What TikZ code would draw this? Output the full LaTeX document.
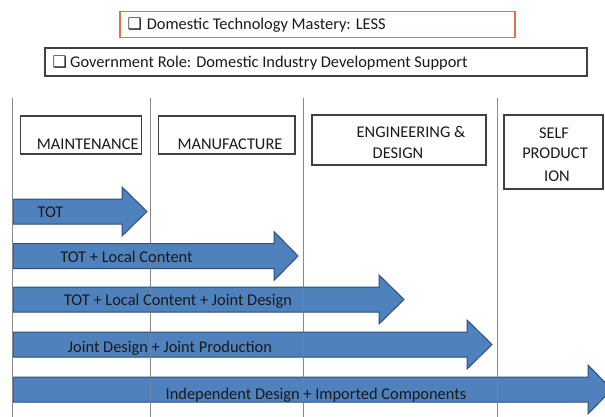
\documentclass[tikz,border=0pt]{standalone}
\usepackage{fontspec}
\setmainfont{Carlito}
\newfontfamily\symfont{DejaVu Sans}
\definecolor{arrowfill}{HTML}{4F81BD}
\definecolor{arrowline}{HTML}{2E4F7A}
\definecolor{orangeline}{HTML}{E0704F}
\definecolor{boxline}{HTML}{404040}
\definecolor{txt}{HTML}{1A1A1A}
\definecolor{gridline}{HTML}{8A8A8A}
\tikzset{
  txtstyle/.style={font=\fontsize{16.4}{21.5}\selectfont, text=txt, inner sep=0pt},
  headbox/.style={draw=boxline, line width=1.1pt, fill=white},
  bigarrow/.style={fill=arrowfill, draw=arrowline, line width=1pt, line join=miter},
  grid/.style={draw=gridline, line width=0.9pt},
  gridover/.style={draw=gridline, line width=0.8pt, draw opacity=0.45},
}
\newcommand{\boxsym}[1]{{\symfont\fontsize{16}{16}\selectfont\makebox[#1][l]{❑}}}
% #1 name, #2 x start, #3 head base x, #4 tip x, #5 center y
\newcommand{\blockarrow}[5]{%
  \path[bigarrow] (#2,#5-12.5) -- (#3,#5-12.5) -- (#3,#5-24.5) -- (#4,#5)
     -- (#3,#5+24.5) -- (#3,#5+12.5) -- (#2,#5+12.5) -- cycle;
  \coordinate (#1) at (#2,#5);
}
\begin{document}
\begin{tikzpicture}[x=1pt,y=-1pt]
\useasboundingbox (0,0) rectangle (605,417);
\clip (0,0) rectangle (605,417);
\fill[white] (0,0) rectangle (605,417);

% top boxes
\draw[draw=orangeline, line width=1.4pt] (120,11.7) rectangle (515,37.7);
\node[txtstyle, anchor=base west] (mastery) at (127.5,30) {\boxsym{19.2pt}Domestic Technology Mastery: LESS};
\draw[draw=boxline, line width=1.1pt] (45,48) rectangle (587,76);
\node[txtstyle, anchor=base west] (govrole) at (52.5,68) {\boxsym{17.5pt}Government Role: Domestic Industry Development Support};

% vertical lines (under arrows)
\draw[grid] (12.7,98) -- (12.7,417);
\draw[grid] (150,98) -- (150,417);
\draw[grid] (303,98) -- (303,417);
\draw[grid] (497,98) -- (497,417);

% arrows
\blockarrow{a1}{13}{122}{147}{211.5}
\blockarrow{a2}{13}{274}{298}{256}
\blockarrow{a3}{13}{379}{404}{299.5}
\blockarrow{a4}{13}{467}{492}{344.5}
\blockarrow{a5}{13}{588}{612}{389.5}

% vertical lines faintly seen over arrows
\draw[gridover] (150,98) -- (150,417);
\draw[gridover] (303,98) -- (303,417);
\draw[gridover] (497,98) -- (497,417);
\draw[grid] (12.7,98) -- (12.7,417);

% arrow labels
\node[txtstyle, anchor=base] (t1) at (50.5,217) {TOT};
\node[txtstyle, anchor=base] (t2) at (126.5,262) {TOT + Local Content};
\node[txtstyle, anchor=base] (t3) at (178,305) {TOT + Local Content + Joint Design};
\node[txtstyle, anchor=base] (t4) at (170,352) {Joint Design + Joint Production};
\node[txtstyle, anchor=base] (t5) at (316,399) {Independent Design + Imported Components};

% header boxes
\draw[headbox] (20.7,116) rectangle (141.7,154);
\node[txtstyle, anchor=base] (maint) at (87.7,149.5) {MAINTENANCE};
\draw[headbox] (158.7,116) rectangle (295,154);
\node[txtstyle, anchor=base] (manuf) at (230,149.5) {MANUFACTURE};
\draw[headbox] (312,115) rectangle (486,165);
\node[txtstyle, anchor=base] (eng1) at (411,138) {ENGINEERING \&};
\node[txtstyle, anchor=base] (eng2) at (398,158) {DESIGN};
\draw[headbox] (504,115) rectangle (603,189);
\node[txtstyle, anchor=base] (self1) at (554,139) {SELF};
\node[txtstyle, anchor=base] (self2) at (555,159) {PRODUCT};
\node[txtstyle, anchor=base] (self3) at (557,181.5) {ION};
\end{tikzpicture}
\end{document}
